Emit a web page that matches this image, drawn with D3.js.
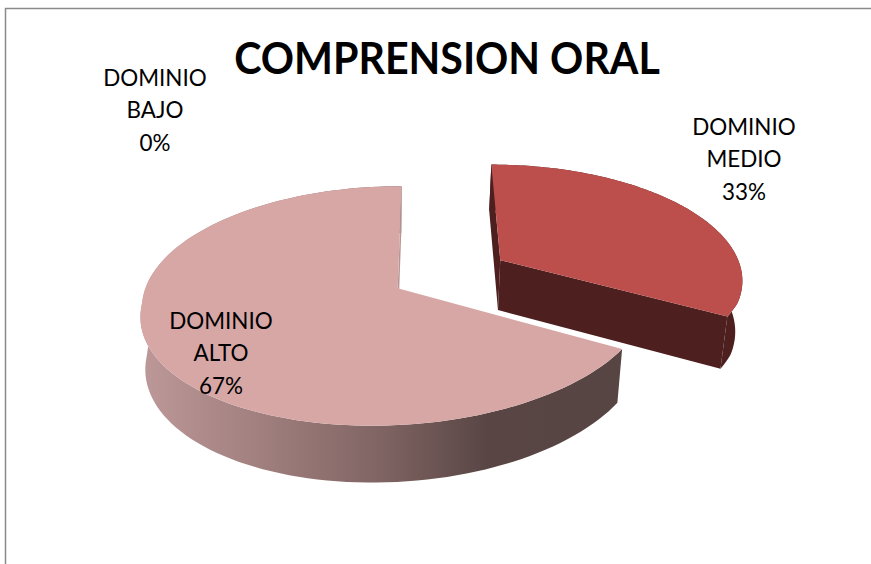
<!DOCTYPE html>
<html>
<head>
<meta charset="utf-8">
<script src="https://d3js.org/d3.v7.min.js"></script>
<style>
  html, body { margin: 0; padding: 0; background: #fff; }
  svg { display: block; font-family: Lato, "Open Sans", sans-serif; }
</style>
</head>
<body>
<div class="chart"></div>
<script>
var svgWidth = 871;
var svgHeight = 564;

// values
var title = "COMPRENSION ORAL";
var categories = ["DOMINIO MEDIO", "DOMINIO ALTO", "DOMINIO BAJO"];
var values = [33, 67, 0];

var topColors = ["#bc4f4c", "#d7a7a6", "#d7a7a6"];
var darkColor = "#4d1f1e";

// label centre (x, first line y), same order as categories
var labelPos = [[744, 126], [221, 320], [155, 77]];

// pie plane -> screen, a rough perspective with one vanishing point
// q and shear are fudge terms, the front of the original pie leans left
var persp = { cx: 450, cy: 274, vx: 428, vy: -511, a: 245, p: 0.144, q: 0.008, shear: 0.08, explode: 0.245 };

function project(u, v) {
  var t = 1 / (1 - persp.p * v);
  var lean = persp.shear * Math.max(0, v - 0.25);
  return [
    persp.vx + (persp.cx - persp.vx + persp.a * (u - persp.q * u * u - lean)) * t,
    persp.vy + (persp.cy - persp.vy) * t
  ];
}

// bottom of the pie wall, slightly smaller and lower than the top
function lower(pt) {
  return [pt[0] - (pt[0] - 385) * 0.02, pt[1] + 39 + 0.042 * pt[1]];
}

var svg = d3.select(".chart")
  .append("svg")
  .attr("width", svgWidth)
  .attr("height", svgHeight);

var grad = svg.append("defs").append("linearGradient")
  .attr("id", "wallGrad")
  .attr("gradientUnits", "userSpaceOnUse")
  .attr("x1", 142).attr("x2", 621)
  .attr("y1", 0).attr("y2", 0);

[[0, "#bd9898"], [0.25, "#a07f7e"], [0.5, "#7f6463"], [0.72, "#594644"], [1, "#574543"]].forEach(function(s) {
  grad.append("stop").attr("offset", s[0]).attr("stop-color", s[1]);
});

// chart frame, runs off the right and bottom edges
svg.append("rect")
  .attr("x", 5.5)
  .attr("y", 8.5)
  .attr("width", svgWidth + 20)
  .attr("height", svgHeight + 20)
  .attr("fill", "none")
  .attr("stroke", "#8a8a8a")
  .attr("stroke-width", 1.5);

var pie = d3.pie().sort(null).value(function(d) { return d; });
var arcs = pie(values);

var line = d3.line();

function slicePoint(d, ang, r) {
  var mid = (d.startAngle + d.endAngle) / 2;
  var ox = Math.sin(mid) * persp.explode;
  var oy = -Math.cos(mid) * persp.explode;
  return project(ox + Math.sin(ang) * r, oy - Math.cos(ang) * r);
}

function arcPoints(d, from, to) {
  return d3.range(0, 121).map(function(i) {
    return slicePoint(d, from + (to - from) * i / 120, 1);
  });
}

function wall(points) {
  return line(points.concat(points.map(lower).reverse())) + "Z";
}

var pieGroup = svg.append("g");

arcs.forEach(function(d, i) {
  if (d.value === 0) return;
  var apex = slicePoint(d, d.startAngle, 0);
  var start = slicePoint(d, d.startAngle, 1);
  var end = slicePoint(d, d.endAngle, 1);

  // outer wall, the part at the back ends up under the top face
  pieGroup.append("path")
    .attr("d", wall(arcPoints(d, d.startAngle, d.endAngle)))
    .attr("fill", i === 0 ? darkColor : "url(#wallGrad)");

  if (i === 0) {
    // red slice shows both cut walls
    pieGroup.append("path")
      .attr("d", wall([start, apex]))
      .attr("fill", darkColor);
    pieGroup.append("path")
      .attr("d", wall([apex, end]))
      .attr("fill", darkColor);
  } else {
    // pink slice only shows the thin one at the top
    pieGroup.append("path")
      .attr("d", wall([end, apex]))
      .attr("fill", "#b89595");
  }

  // top face
  pieGroup.append("path")
    .attr("d", line([apex].concat(arcPoints(d, d.startAngle, d.endAngle))) + "Z")
    .attr("fill", topColors[i]);
});

// Lato runs wider than the original font, so squeeze the text a bit
svg.append("text")
  .attr("transform", "translate(447,74) scale(0.936,1)")
  .attr("text-anchor", "middle")
  .attr("font-size", 44)
  .attr("font-weight", "bold")
  .attr("fill", "#000")
  .text(title);

arcs.forEach(function(d, i) {
  var parts = categories[i].split(" ").concat([d3.format("d")(d.value) + "%"]);
  svg.append("g")
    .selectAll("text")
    .data(parts)
    .enter()
    .append("text")
    .attr("transform", function(p, j) {
      return "translate(" + labelPos[i][0] + "," + (labelPos[i][1] + 8.5 + j * 32.7) + ") scale(0.935,1)";
    })
    .attr("text-anchor", "middle")
    .attr("font-size", 24)
    .attr("fill", "#000")
    .text(function(p) { return p; });
});
</script>
</body>
</html>
